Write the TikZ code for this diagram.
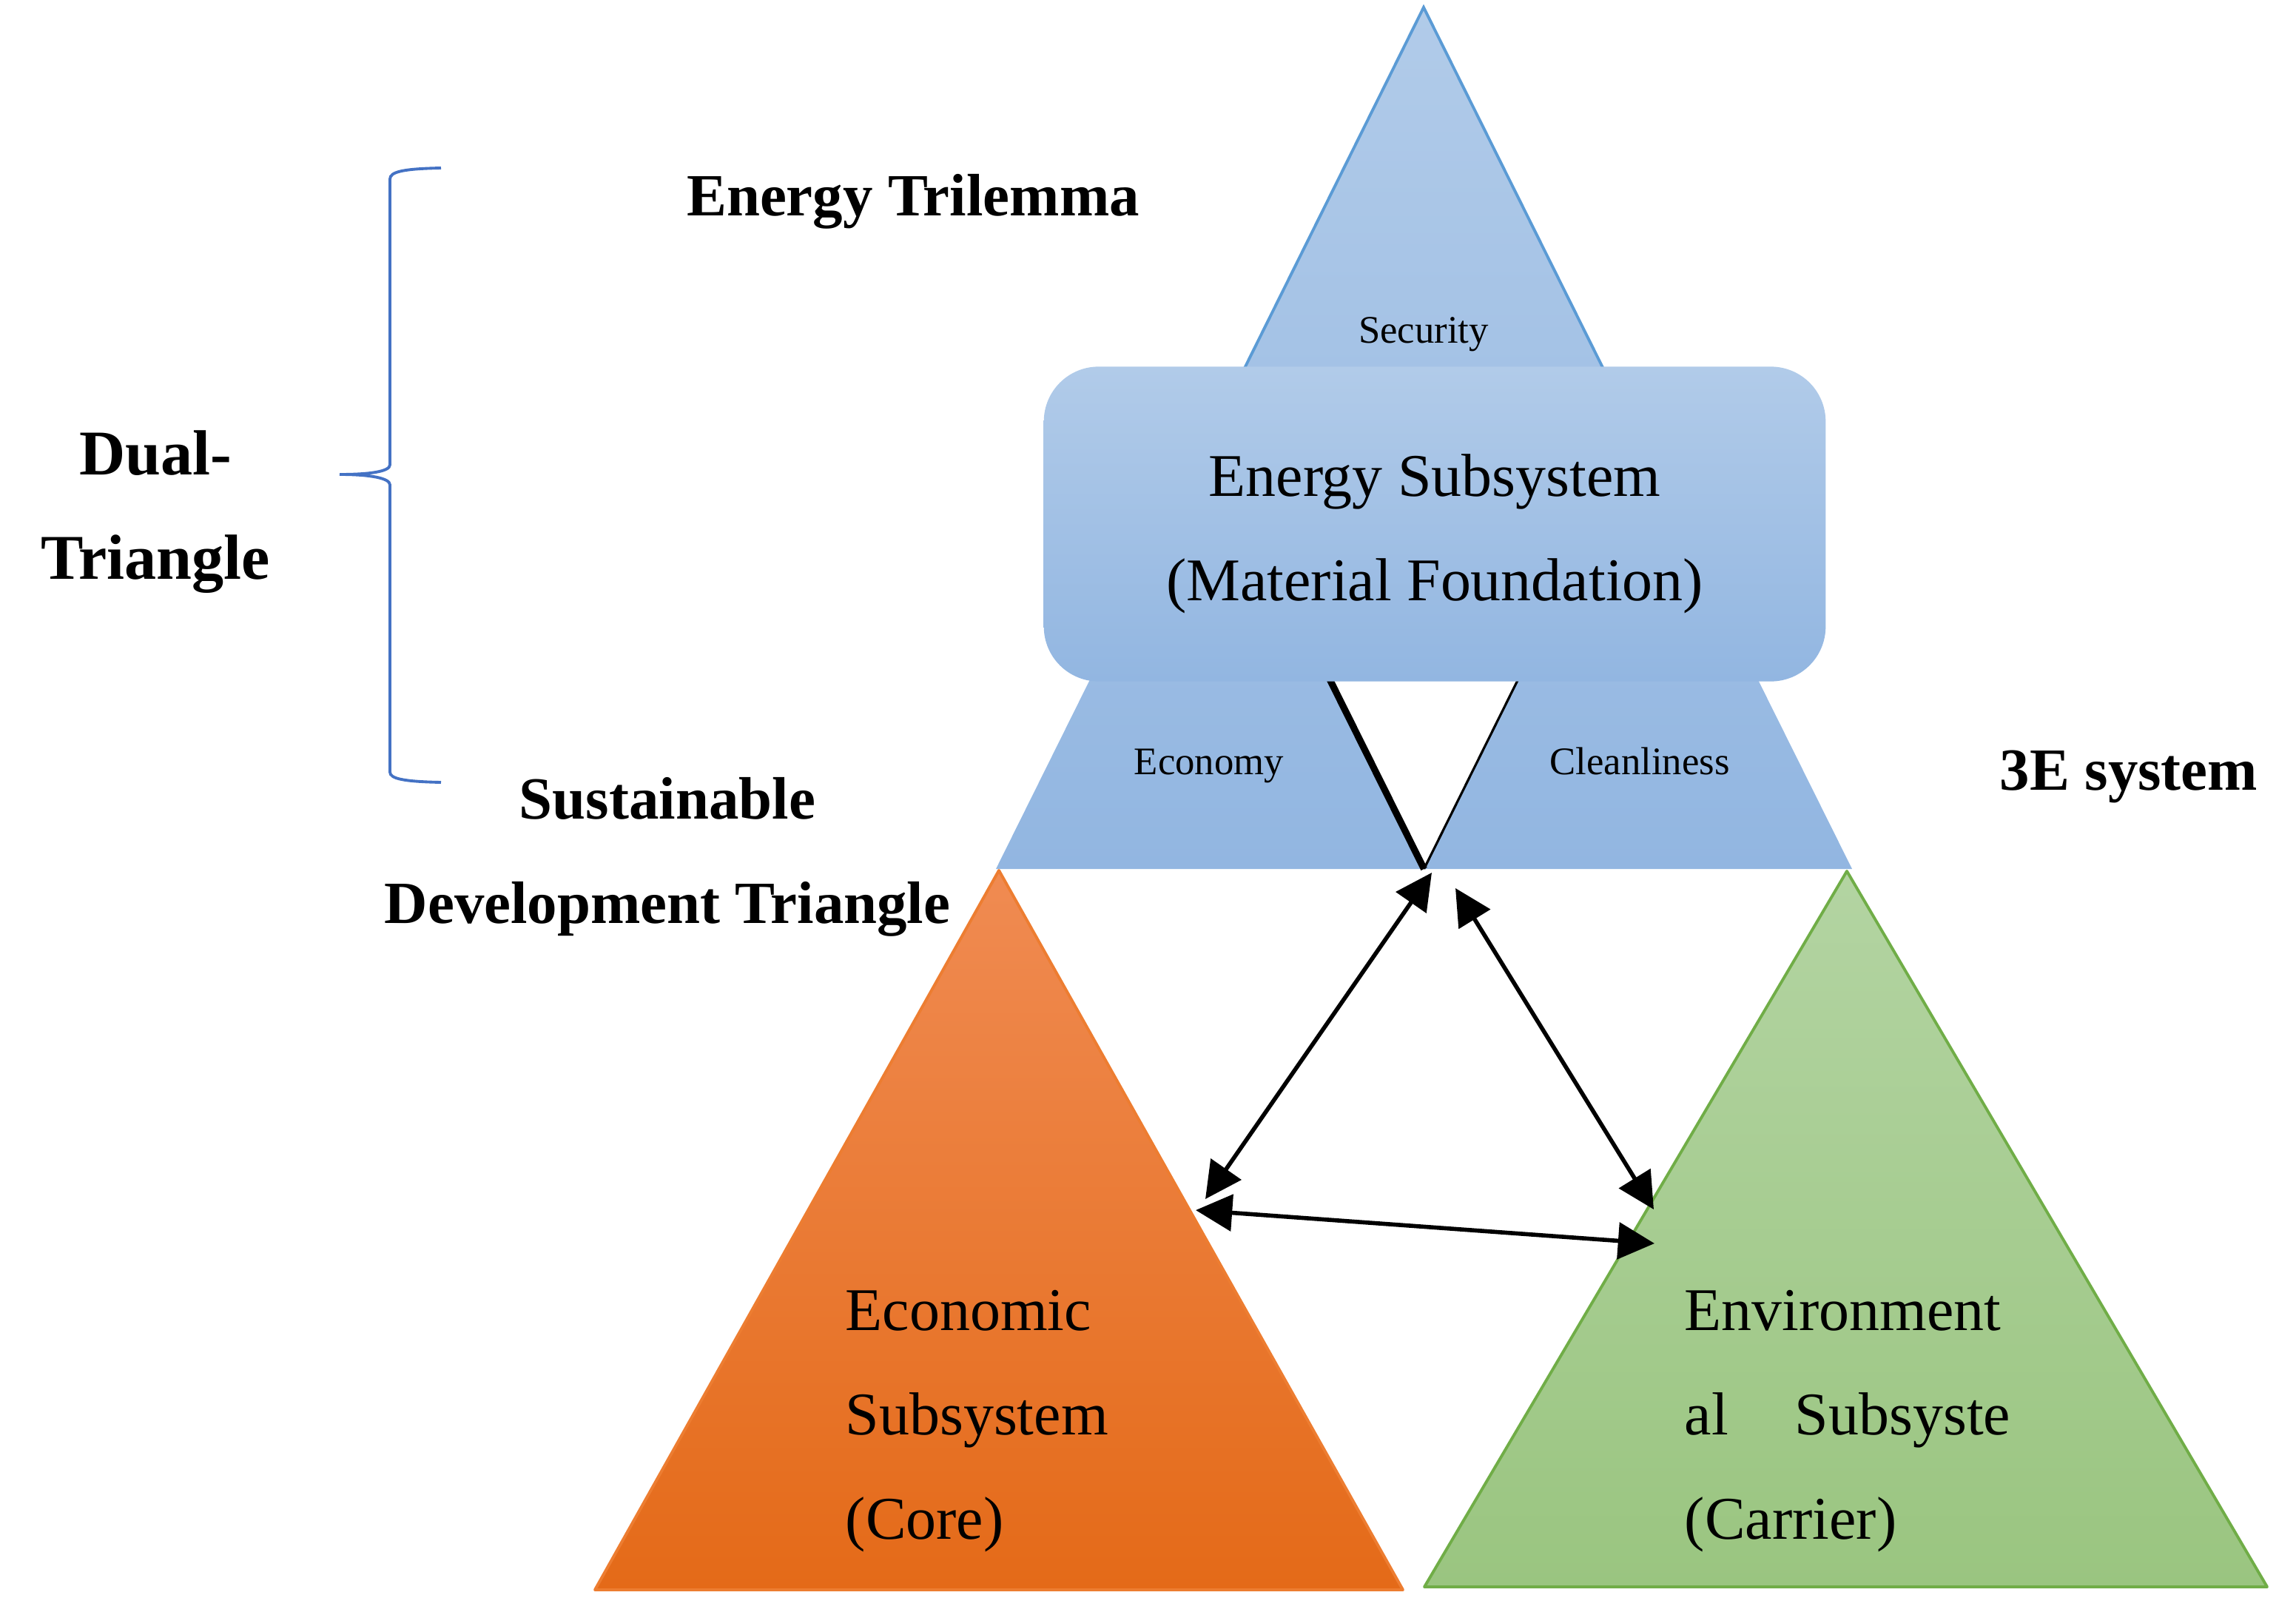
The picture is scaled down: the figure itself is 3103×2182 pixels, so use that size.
\documentclass[tikz,border=0pt]{standalone}
\usepackage{fontspec}
\setmainfont{Liberation Serif}
\usetikzlibrary{arrows.meta, calc}

\definecolor{skyTop}{HTML}{B1CBE9}
\definecolor{skyBot}{HTML}{92B6E1}
\definecolor{skyLine}{HTML}{5B9BD5}
\definecolor{orTop}{HTML}{F08B52}
\definecolor{orMid}{HTML}{F17A2A}
\definecolor{orBot}{HTML}{E46A18}
\definecolor{orLine}{HTML}{ED7D31}
\definecolor{grTop}{HTML}{B3D4A2}
\definecolor{grBot}{HTML}{9AC580}
\definecolor{grLine}{HTML}{70AD47}
\definecolor{braceBlue}{HTML}{4472C4}

\begin{document}
\begin{tikzpicture}[x=0.01cm, y=-0.01cm,
    txt/.style={font=\fontsize{23.3}{40}\selectfont, inner sep=0pt},
    head/.style={font=\fontsize{23}{40}\selectfont\bfseries, inner sep=0pt, align=center},
    corner/.style={font=\fontsize{15}{16}\selectfont, inner sep=0pt, anchor=base},
    link/.style={{Triangle[length=14pt,width=14pt]}-{Triangle[length=14pt,width=14pt]}, line width=1.6pt}]
    \useasboundingbox (0,0) rectangle (3103,2182);

    % energy triangle
    \coordinate (sA) at (1924,10);
    \coordinate (sB) at (1346,1174);
    \coordinate (sC) at (2503,1174);
    \shade[top color=skyTop, bottom color=skyBot] (sA) -- (sB) -- (sC) -- cycle;
    \draw[skyLine, line width=1.1pt] ($(sA)!0.42!(sB)$) -- (sA) -- ($(sA)!0.42!(sC)$);
    \coordinate (mL) at ($(sA)!0.5!(sB)$);
    \coordinate (mR) at ($(sA)!0.5!(sC)$);
    \coordinate (mB) at ($(sB)!0.5!(sC)$);
    \fill[white] (mL) -- (mR) -- (mB) -- cycle;
    \draw[line width=2.6pt] (mL) -- (mB);
    \draw[line width=0.9pt] (mR) -- (mB);
    \node[corner] (sec) at (1924,463) {Security};
    \node[corner] (eco) at (1634,1046) {Economy};
    \node[corner] (cln) at (2216,1046) {Cleanliness};

    \node[top color=skyTop, bottom color=skyBot, rounded corners=0.74cm,
          minimum width=10.56cm, minimum height=4.25cm] (energy) at (1939,708) {};
    % multi-line nodes sit on their last line
    \node[txt, align=center, anchor=base] (enlbl) at (1939,811)
        {Energy Subsystem\\(Material Foundation)};

    % economic and environmental triangles
    \coordinate (oA) at (1350,1176);
    \coordinate (oB) at (804,2148);
    \coordinate (oC) at (1896,2148);
    \shade[top color=orTop, middle color=orMid, bottom color=orBot] (oA) -- (oB) -- (oC) -- cycle;
    \draw[orLine, line width=1.1pt, line join=round] (oA) -- (oB) -- (oC) -- cycle;
    \coordinate (gA) at (2496,1177);
    \coordinate (gB) at (1925,2144);
    \coordinate (gC) at (3064,2144);
    \shade[top color=grTop, bottom color=grBot] (gA) -- (gB) -- (gC) -- cycle;
    \draw[grLine, line width=1.1pt, line join=round] (gA) -- (gB) -- (gC) -- cycle;
    \node[txt, align=left, anchor=base west] (ecolbl) at (1142,2079)
        {Economic\\Subsystem\\(Core)};
    \node[txt, align=left, anchor=base west] (envlbl) at (2276,2079)
        {Environment\\al\hspace{0.9cm}Subsyste\\(Carrier)};

    % links
    \coordinate (en-l) at (1935,1179);
    \coordinate (en-r) at (1967,1200);
    \coordinate (ec-t) at (1629,1620);
    \coordinate (ec-r) at (1616,1635);
    \coordinate (ev-t) at (2235,1634);
    \coordinate (ev-l) at (2236,1680);
    \draw[link] (ec-t) -- (en-l);
    \draw[link] (en-r) -- (ev-t);
    \draw[link] (ec-r) -- (ev-l);

    % labels
    \node[head, anchor=base] (tri) at (1234,292) {Energy Trilemma};
    \node[head, anchor=base] (sdt) at (902,1247) {Sustainable\\Development Triangle};
    \node[head, anchor=base] (sys) at (2877,1067) {3E system};
    \node[head, anchor=base, font=\fontsize{24.5}{40}\selectfont\bfseries]
        (dual) at (210,782) {Dual-\\Triangle};
    \draw[braceBlue, line width=1.1pt] (596,227) .. controls (545,228) and (527,232) .. (527,242)
        -- (527,628) .. controls (527,637) and (500,641) .. (459,641)
        .. controls (500,641) and (527,646) .. (527,655)
        -- (527,1043) .. controls (527,1052) and (545,1056) .. (596,1057);
\end{tikzpicture}
\end{document}
